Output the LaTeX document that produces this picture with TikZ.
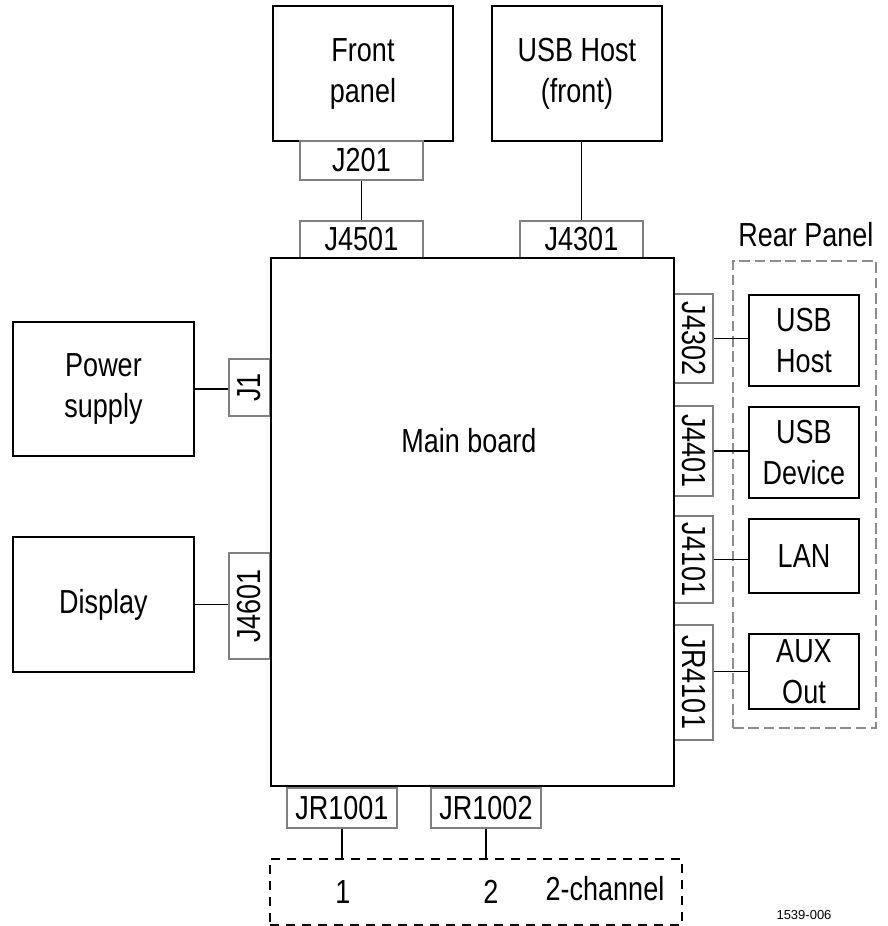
\documentclass[tikz,border=0pt]{standalone}
\usepackage{fontspec}
\setmainfont{Liberation Sans}[FakeStretch=0.81]
\newfontfamily\plainsans{Liberation Sans}
\usetikzlibrary{fit}
\begin{document}
\begin{tikzpicture}[x=0.75pt,y=-0.75pt,
  txt/.style={font=\fontsize{25}{30.75}\selectfont,align=center,inner sep=0pt},
  blk/.style={draw=black,line width=2pt,inner sep=0pt},
  con/.style={draw=black!50,line width=0.8pt,inner sep=0pt},
  wire/.style={draw=black,line width=1.2pt},
  rearbox/.style={draw=black!45,line width=0.8pt,dash pattern=on 8pt off 3.5pt,inner sep=0pt},
  chanbox/.style={draw=black,line width=1.4pt,dash pattern=on 7pt off 5pt,inner sep=0pt}
  ]
\useasboundingbox (0,0) rectangle (888,926);
% top units
\node[blk,fit={(273,6) (453,141)}] (fp) {};
\node[txt] at (fp.center) {Front\\panel};
\node[blk,fit={(492,6) (662,141)}] (usbf) {};
\node[txt] at (usbf.center) {USB Host\\(front)};
\node[con,fit={(300,141) (423,180)}] (j201) {};
\node[txt] at (j201.center) {J201};
\node[con,fit={(300,221) (423,258)}] (j4501) {};
\node[txt] at (j4501.center) {J4501};
\node[con,fit={(520,221) (643,258)}] (j4301) {};
\node[txt] at (j4301.center) {J4301};
% left
\node[blk,fit={(13,322) (194,456)}] (ps) {};
\node[txt] at (ps.center) {Power\\supply};
\node[blk,fit={(13,537) (194,672)}] (disp) {};
\node[txt] at (disp.center) {Display};
\node[con,fit={(229,359) (270,416)}] (j1) {};
\node[txt,rotate=90] at (j1.center) {J1};
\node[con,fit={(229,553) (270,659)}] (j4601) {};
\node[txt,rotate=90] at (j4601.center) {J4601};
% right connectors
\node[con,fit={(674,294) (713,383)}] (j4302) {};
\node[txt,rotate=-90] at (j4302.center) {J4302};
\node[con,fit={(674,406) (713,496)}] (j4401) {};
\node[txt,rotate=-90] at (j4401.center) {J4401};
\node[con,fit={(674,516) (713,603)}] (j4101) {};
\node[txt,rotate=-90] at (j4101.center) {J4101};
\node[con,fit={(674,625) (713,740)}] (jr4101) {};
\node[txt,rotate=-90] at (jr4101.center) {JR4101};
% rear panel
\node[rearbox,fit={(733,261) (876,728)}] (rear) {};
\node[txt,anchor=base] (reartitle) at (806,246) {Rear Panel};
\node[blk,fit={(749,295) (859,386)}] (usbh) {};
\node[txt] at (usbh.center) {USB\\Host};
\node[blk,fit={(749,407) (859,498)}] (usbd) {};
\node[txt] at (usbd.center) {USB\\Device};
\node[blk,fit={(749,519) (859,593)}] (lan) {};
\node[txt] at (lan.center) {LAN};
\node[blk,fit={(749,634) (859,709)}] (aux) {};
\node[txt] at (aux.center) {AUX\\Out};
% bottom
\node[con,fit={(287,788) (397,828)}] (jr1) {};
\node[txt] at (jr1.center) {JR1001};
\node[con,fit={(431,788) (541,828)}] (jr2) {};
\node[txt] at (jr2.center) {JR1002};
\node[chanbox,fit={(270,859) (682,925)}] (chan) {};
\node[txt,anchor=base] (c1) at (343,903) {1};
\node[txt,anchor=base] (c2) at (491,903) {2};
\node[txt,anchor=base] (c3) at (605,900) {2-channel};
\node[font=\plainsans\fontsize{9.75}{12}\selectfont,inner sep=0pt] (code) at (804,915) {1539-006};
% main board
\node[blk,fit={(271,258) (674,786)}] (mb) {};
\node[txt,anchor=base] (mbt) at (469,452) {Main board};
% wires
\draw[wire] (j201.south) -- (j4501.north);
\draw[wire] (j4301.north) -- (j4301.north |- usbf.south);
\draw[wire] (ps.east) -- (ps.east -| j1.west);
\draw[wire] (disp.east) -- (disp.east -| j4601.west);
\draw[wire] (j4302.east) -- (j4302.east -| usbh.west);
\draw[wire] (j4401.east) -- (j4401.east -| usbd.west);
\draw[wire] (j4101.east) -- (j4101.east -| lan.west);
\draw[wire] (aux.west -| jr4101.east) -- (aux.west);
\draw[wire] (jr1.south) -- (jr1.south |- chan.north);
\draw[wire] (jr2.south) -- (jr2.south |- chan.north);
\end{tikzpicture}
\end{document}
